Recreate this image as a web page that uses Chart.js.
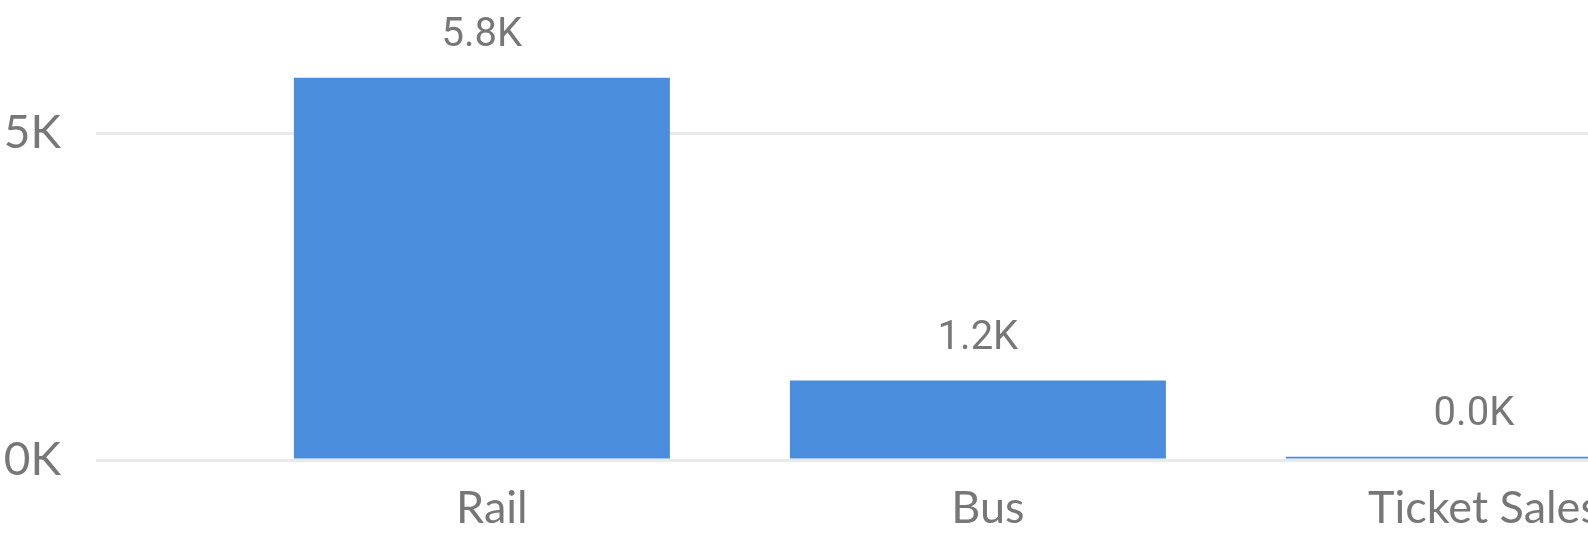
<!DOCTYPE html>
<html>
<head>
<meta charset="utf-8">
<script src="https://cdn.jsdelivr.net/npm/chart.js@4"></script>
<style>
  html, body { margin: 0; padding: 0; background: #fff; overflow: hidden; }
  #wrap { width: 1588px; height: 535px; overflow: hidden; }
</style>
</head>
<body>
<div id="wrap">
  <canvas id="my-canvas" width="1900" height="535"></canvas>
</div>
<script>
const categories = ['Rail', 'Bus', 'Ticket Sales'];
const values = [5845, 1215, 49];
const yTicks = [0, 5000];

const BAR_COLOR = '#4a8ddc';
const TEXT_COLOR = '#777777';

const kFormat = v => `${(v / 1000).toFixed(1)}K`;

// value labels above each bar
const dataLabels = {
  id: 'dataLabels',
  afterDatasetsDraw(chart) {
    const ctx = chart.ctx;
    const meta = chart.getDatasetMeta(0);
    ctx.save();
    ctx.font = '40px Roboto';
    ctx.fillStyle = TEXT_COLOR;
    ctx.textAlign = 'center';
    ctx.textBaseline = 'alphabetic';
    meta.data.forEach((bar, i) => {
      ctx.fillText(kFormat(values[i]), bar.x, bar.y - 32);
    });
    ctx.restore();
  },
};

document.addEventListener('DOMContentLoaded', function () {
  const config = {
    type: 'bar',
    data: {
      datasets: [
        {
          label: 'Value',
          data: categories.map((c, i) => ({ x: i, y: values[i] })),
          backgroundColor: BAR_COLOR,
          borderWidth: 0,
          categoryPercentage: 1,
          barPercentage: 0.758,
        },
      ],
    },
    plugins: [dataLabels],
    options: {
      responsive: false,
      animation: false,
      devicePixelRatio: 1,
      layout: { padding: 0 },
      plugins: {
        legend: { display: false },
        tooltip: { enabled: false },
      },
      scales: {
        x: {
          type: 'linear',
          offset: false,
          min: -0.778,
          max: 2.859,
          grid: { display: false },
          border: { display: false },
          afterBuildTicks: s => {
            s.ticks = categories.map((c, i) => ({ value: i }));
          },
          afterFit: s => {
            s.height = 75;
            s.paddingLeft = 0;
            s.paddingRight = 0;
          },
          ticks: {
            autoSkip: false,
            maxRotation: 0,
            padding: 13,
            labelOffset: 10,
            color: TEXT_COLOR,
            font: { family: 'Lato', size: 45 },
            callback: v => categories[v] ?? '',
          },
        },
        y: {
          min: 0,
          max: 7034,
          grid: { color: '#e9e9e9', lineWidth: 3, drawTicks: false },
          border: { display: false },
          afterBuildTicks: s => {
            s.ticks = yTicks.map(v => ({ value: v }));
          },
          afterFit: s => {
            s.width = 96;
            s.paddingTop = 0;
            s.paddingBottom = 0;
          },
          ticks: {
            padding: 35,
            color: TEXT_COLOR,
            font: { family: 'Lato', size: 46 },
            callback: v => `${v / 1000}K`,
          },
        },
      },
    },
  };

  new Chart('my-canvas', config);
});
</script>
</body>
</html>
